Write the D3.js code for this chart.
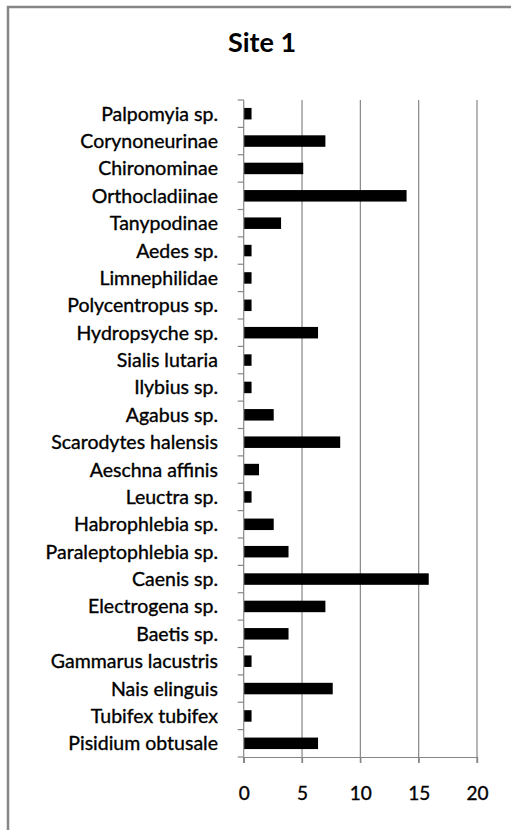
<!DOCTYPE html>
<html><head><meta charset="utf-8">
<script src="https://cdn.jsdelivr.net/npm/d3@7"></script>
<style>html,body{margin:0;padding:0;background:#fff;}svg{display:block;}</style>
</head><body>
<script>
const categories = ["Palpomyia sp.","Corynoneurinae","Chironominae","Orthocladiinae","Tanypodinae","Aedes sp.","Limnephilidae","Polycentropus sp.","Hydropsyche sp.","Sialis lutaria","Ilybius sp.","Agabus sp.","Scarodytes halensis","Aeschna affinis","Leuctra sp.","Habrophlebia sp.","Paraleptophlebia sp.","Caenis sp.","Electrogena sp.","Baetis sp.","Gammarus lacustris","Nais elinguis","Tubifex tubifex","Pisidium obtusale"];
const values = [0.63,6.96,5.06,13.92,3.16,0.63,0.63,0.63,6.33,0.63,0.63,2.53,8.23,1.27,0.63,2.53,3.80,15.82,6.96,3.80,0.63,7.59,0.63,6.33];
const xTicks = [0,5,10,15,20];
const title = "Site 1";

const W = 511, H = 830;
const font = "Lato, 'Open Sans', sans-serif";
const svg = d3.select("body").append("svg").attr("width", W).attr("height", H);
svg.append("rect").attr("x",0).attr("y",0).attr("width",W).attr("height",H).attr("fill","#fff");
// chart border
svg.append("rect").attr("x",8).attr("y",7).attr("width",W+20).attr("height",H+20)
  .attr("fill","none").attr("stroke","#868686").attr("stroke-width",2.5);

const x = d3.scaleLinear().domain([0,20]).range([243.7,477]);
const y = d3.scaleBand().domain(categories).range([100,757]).paddingInner(0.58).paddingOuter(0.29);
const step = y.step();

svg.append("text").attr("x",262).attr("y",52).attr("text-anchor","middle")
  .attr("font-family",font).attr("font-weight","bold").attr("font-size",27).attr("fill","#000")
  .text(title);

// gridlines
svg.append("g").selectAll("line").data(xTicks.slice(1)).join("line")
  .attr("x1",d=>x(d)).attr("x2",d=>x(d)).attr("y1",100).attr("y2",763)
  .attr("stroke","#868686").attr("stroke-width",1.2);

// x axis
const xAxis = d3.axisBottom(x).tickValues(xTicks).tickSize(6).tickPadding(24).tickFormat(d3.format("d"));
const gx = svg.append("g").attr("transform","translate(0,757)").call(xAxis);
gx.select(".domain").attr("stroke","#868686").attr("stroke-width",1.2);
gx.selectAll(".tick line").attr("stroke","#868686").attr("stroke-width",1.2);
gx.selectAll("text").attr("font-family",font).attr("font-size",19).attr("fill","#000")
  .attr("stroke","#000").attr("stroke-width",0.35);

// y axis boundaries ticks
const bounds = d3.range(categories.length+1).map(i => 100 + i*step);
svg.append("g").selectAll("line").data(bounds).join("line")
  .attr("x1",x(0)-6).attr("x2",x(0)).attr("y1",d=>d).attr("y2",d=>d)
  .attr("stroke","#868686").attr("stroke-width",1.2);
svg.append("line").attr("x1",x(0)).attr("x2",x(0)).attr("y1",100).attr("y2",763)
  .attr("stroke","#868686").attr("stroke-width",1.2);

// labels
svg.append("g").selectAll("text").data(categories).join("text")
  .attr("x",218).attr("y",d=>y(d)+y.bandwidth()/2).attr("dy","0.36em")
  .attr("text-anchor","end").attr("font-family",font).attr("font-size",19.5).attr("fill","#000")
  .attr("stroke","#000").attr("stroke-width",0.35)
  .text(d=>d);

// bars
svg.append("g").selectAll("rect").data(values).join("rect")
  .attr("x",x(0)+0.5).attr("y",(d,i)=>y(categories[i]))
  .attr("width",d=>x(d)-x(0)).attr("height",y.bandwidth())
  .attr("fill","#000");
</script>
</body></html>
